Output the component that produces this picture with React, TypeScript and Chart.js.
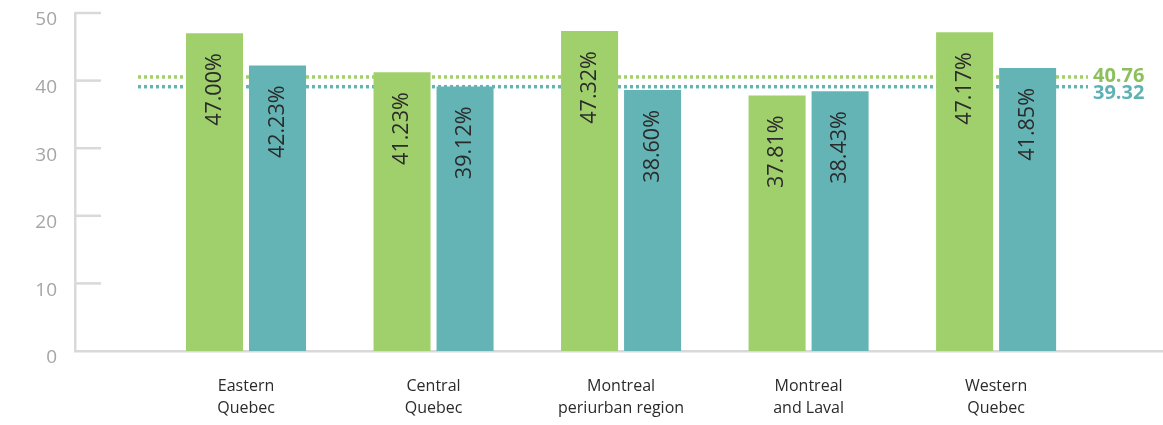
import React, { useEffect, useRef } from 'react';
import { Chart, registerables } from 'chart.js';

Chart.register(...registerables);

const categories: string[][] = [
  ['Eastern', 'Quebec'],
  ['Central', 'Quebec'],
  ['Montreal', 'periurban region'],
  ['Montreal', 'and Laval'],
  ['Western', 'Quebec'],
];
const greenValues = [47.0, 41.23, 47.32, 37.81, 47.17];
const tealValues = [42.23, 39.12, 38.6, 38.43, 41.85];
const greenAverage = 40.76;
const tealAverage = 39.32;
const yTicks = [0, 10, 20, 30, 40, 50];

const GREEN = '#a0d06b';
const TEAL = '#64b4b5';
const GREEN_TEXT = '#8cc05c';
const TEAL_TEXT = '#5fb2b3';
const AXIS = '#d9d9d9';
const FONT = '"Open Sans", "Noto Sans", sans-serif';

const decorPlugin = {
  id: 'decor',
  beforeDatasetsDraw(chart: any) {
    const { ctx, chartArea } = chart;
    const x = chart.scales.x;
    const y = chart.scales.y;
    ctx.save();
    ctx.strokeStyle = AXIS;
    ctx.lineWidth = 2.5;
    yTicks.forEach((v) => {
      if (v === 0) return;
      const py = y.getPixelForValue(v);
      ctx.beginPath();
      ctx.moveTo(chartArea.left, py);
      ctx.lineTo(chartArea.left + 26, py);
      ctx.stroke();
    });
    const x0 = x.getPixelForValue(-0.576);
    const x1 = x.getPixelForValue(4.49);
    ([[greenAverage, GREEN], [tealAverage, TEAL]] as [number, string][]).forEach(([v, c]) => {
      const py = y.getPixelForValue(v) + 1.5;
      ctx.strokeStyle = c;
      ctx.lineWidth = 3.5;
      ctx.setLineDash([3, 3]);
      ctx.beginPath();
      ctx.moveTo(x0, py);
      ctx.lineTo(x1, py);
      ctx.stroke();
    });
    ctx.restore();
  },
  afterDatasetsDraw(chart: any) {
    const { ctx } = chart;
    const x = chart.scales.x;
    const y = chart.scales.y;
    chart.data.datasets.forEach((ds: any, di: number) => {
      const meta = chart.getDatasetMeta(di);
      meta.data.forEach((bar: any, i: number) => {
        const v = ds.data[i].y;
        ctx.save();
        ctx.translate(bar.x, bar.y + 20);
        ctx.rotate(-Math.PI / 2);
        ctx.textAlign = 'right';
        ctx.textBaseline = 'middle';
        ctx.font = `21.5px ${FONT}`;
        ctx.fillStyle = '#2b2b2b';
        ctx.fillText(v.toFixed(2) + '%', 0, 0);
        ctx.restore();
      });
    });
    const lx = x.getPixelForValue(4.49) + 5;
    ctx.save();
    ctx.font = `bold 20px ${FONT}`;
    ctx.textAlign = 'left';
    ctx.textBaseline = 'middle';
    ctx.fillStyle = GREEN_TEXT;
    ctx.fillText(greenAverage.toFixed(2), lx, y.getPixelForValue(greenAverage) + 1);
    ctx.fillStyle = TEAL_TEXT;
    ctx.fillText(tealAverage.toFixed(2), lx, y.getPixelForValue(tealAverage) + 8);
    ctx.restore();
  },
};

export default function App() {
  const ref = useRef<HTMLCanvasElement | null>(null);
  useEffect(() => {
    if (!ref.current) return;
    const chart = new Chart(ref.current, {
      type: 'bar',
      data: {
        datasets: [
          {
            label: 'Series A',
            data: greenValues.map((v, i) => ({ x: i, y: v })),
            backgroundColor: GREEN,
            borderWidth: 0,
          },
          {
            label: 'Series B',
            data: tealValues.map((v, i) => ({ x: i, y: v })),
            backgroundColor: TEAL,
            borderWidth: 0,
          },
        ],
      },
      options: {
        animation: false,
        responsive: true,
        maintainAspectRatio: false,
        layout: { padding: { top: 13, left: 0, right: 0, bottom: 0 } },
        datasets: { bar: { categoryPercentage: 0.672, barPercentage: 0.905 } } as any,
        plugins: { legend: { display: false }, tooltip: { enabled: false } },
        scales: {
          x: {
            type: 'linear',
            offset: false,
            min: -0.912,
            max: 4.89,
            grid: { display: false, drawTicks: false, offset: false },
            border: { display: true, color: AXIS, width: 2.5 },
            afterBuildTicks: (s: any) => {
              s.ticks = s.ticks.filter(
                (t: any) => Number.isInteger(t.value) && t.value >= 0 && t.value < categories.length
              );
            },
            ticks: {
              stepSize: 1,
              autoSkip: false,
              maxRotation: 0,
              padding: 24,
              color: '#2b2b2b',
              font: { family: FONT, size: 16, lineHeight: 1.4 },
              callback: (v: any) =>
                Number.isInteger(v) && v >= 0 && v < categories.length ? categories[v] : '',
            },
            afterFit: (s: any) => {
              s.height = 74;
              s.paddingLeft = 0;
              s.paddingRight = 0;
            },
          },
          y: {
            min: 0,
            max: 50,
            grid: { display: false, drawTicks: false },
            border: { display: true, color: AXIS, width: 2.5 },
            ticks: {
              stepSize: 10,
              padding: 18,
              labelOffset: 7,
              color: '#a6a6a6',
              font: { family: FONT, size: 19 },
            },
            afterFit: (s: any) => {
              s.width = 75;
              s.paddingTop = 0;
              s.paddingBottom = 0;
            },
          },
        },
      } as any,
      plugins: [decorPlugin],
    });
    return () => chart.destroy();
  }, []);
  return (
    <div style={{ position: 'absolute', left: 0, top: 0, width: 1163, height: 425 }}>
      <canvas ref={ref} />
    </div>
  );
}
